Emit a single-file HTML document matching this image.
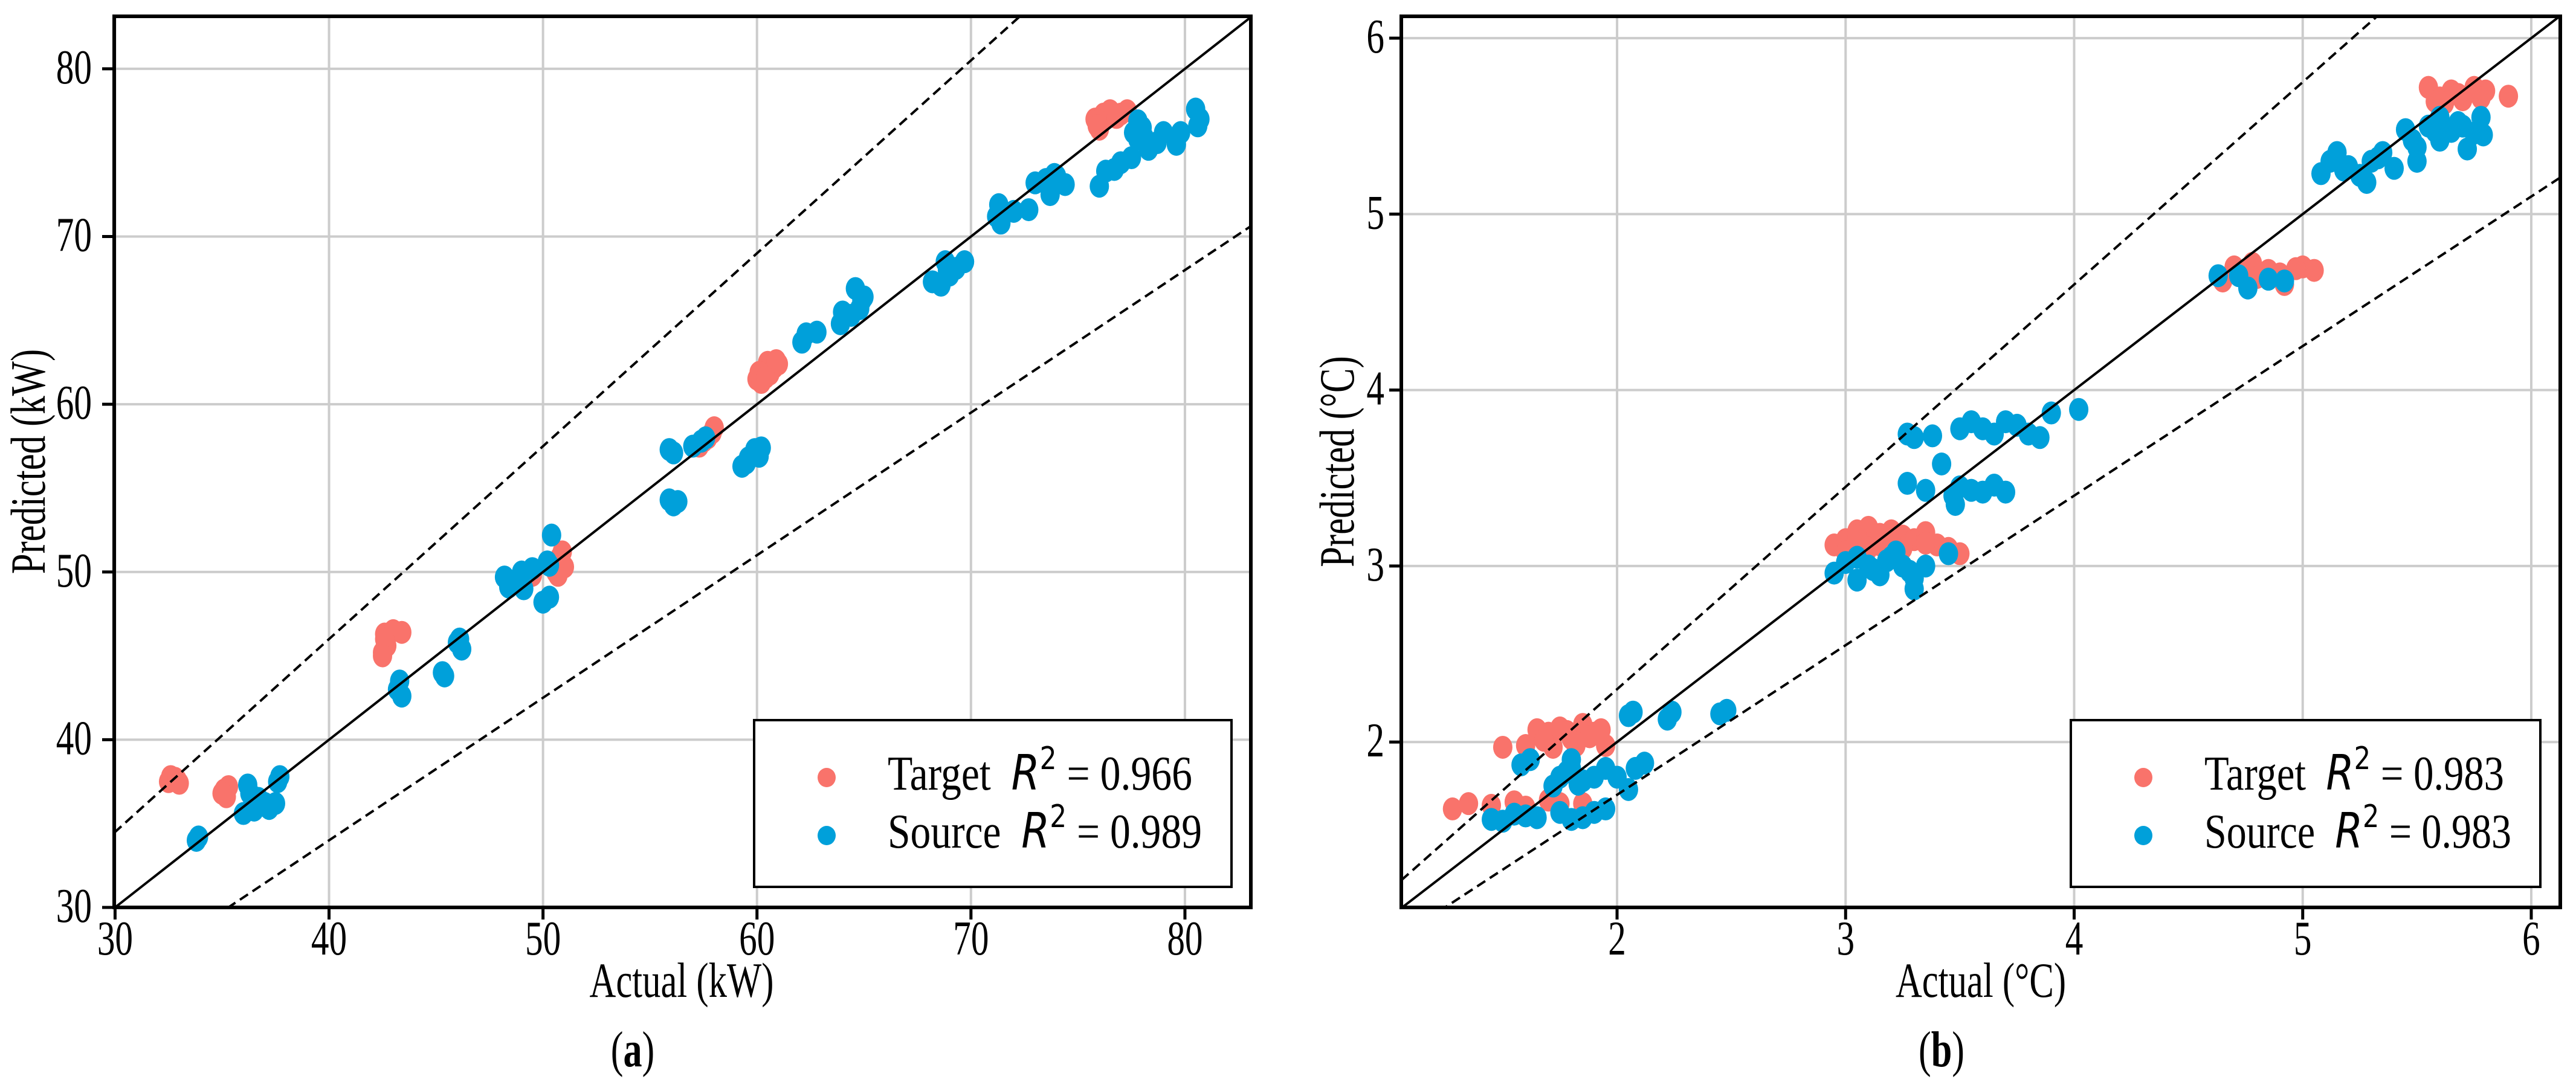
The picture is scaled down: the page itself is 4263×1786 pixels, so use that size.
<!DOCTYPE html>
<html><head><meta charset="utf-8">
<style>
html,body{margin:0;padding:0;background:#fff;}
svg{display:block;}
text{font-family:"Liberation Serif",serif;fill:#000;}
</style></head>
<body>
<svg id="fig" width="4263" height="1786" viewBox="0 0 4263 1786" xmlns="http://www.w3.org/2000/svg"></svg>
<script>
// ---- Panel (a) data: Actual vs Predicted (kW)
const aTargetX = [32.5,32.8,33.0,32.6,32.9,35.1,35.2,35.3,35.0,42.5,42.6,42.7,43.0,43.4,42.6,42.5,50.6,50.8,50.9,51.0,50.7,49.5,50.8,57.3,57.7,58.0,57.9,57.5,60.0,60.3,60.5,60.8,61.0,60.2,60.6,60.9,60.1,60.4,75.8,76.0,76.2,76.5,76.1,77.0,77.3,76.8,75.9];
const aTargetY = [37.5,37.7,37.4,37.8,37.6,37.0,36.6,37.2,36.8,45.2,46.3,45.6,46.5,46.4,46.0,45.0,50.0,50.6,51.2,50.3,49.8,49.8,50.9,57.5,58.0,58.6,58.3,57.8,61.5,62.0,62.5,62.2,62.4,61.3,61.8,62.6,61.9,61.6,77.0,76.4,77.3,77.5,76.8,77.3,77.5,77.1,76.6];
const aSourceX = [33.8,33.9,36.2,36.3,36.0,36.5,36.7,37.0,37.2,37.5,37.6,37.7,36.4,43.3,43.4,43.2,45.3,45.4,46.1,46.2,46.0,48.2,48.4,48.8,49.1,49.5,50.2,50.0,50.3,50.4,50.3,49.0,48.6,55.9,56.1,55.9,56.1,56.3,57.0,57.4,57.6,59.3,59.6,59.9,60.1,60.2,59.5,62.1,62.3,62.8,63.9,64.0,64.6,64.9,64.8,65.0,64.4,68.2,68.6,68.8,69.0,69.3,69.7,68.9,71.2,71.3,71.4,72.0,72.7,73.0,73.5,73.7,74.0,74.4,73.9,76.0,76.3,76.7,77.0,77.5,77.8,78.0,78.3,78.7,79.0,79.6,79.8,80.5,80.6,80.7,77.8,78.1,77.6];
const aSourceY = [34.0,34.2,37.3,36.8,35.6,35.8,36.5,36.2,35.9,36.2,37.5,37.8,36.0,43.5,42.6,43.0,44.0,43.8,46.0,45.4,45.8,49.7,49.1,49.4,49.0,50.2,50.6,48.2,48.5,52.2,50.4,50.0,49.4,57.3,57.1,54.3,54.0,54.2,57.5,57.8,58.0,56.3,56.8,57.3,56.9,57.4,56.5,63.7,64.2,64.3,64.8,65.5,66.9,66.2,65.7,66.4,65.3,67.3,67.1,68.5,67.7,68.1,68.5,68.0,71.2,71.9,70.8,71.5,71.6,73.2,73.4,72.5,73.6,73.1,73.7,73.0,73.9,74.0,74.4,74.7,75.8,76.5,75.2,75.6,76.2,75.5,76.2,77.6,76.6,77.0,76.9,75.9,76.2];
const aTicks = [30,40,50,60,70,80];

// ---- Panel (b) data: Actual vs Predicted (°C)
const bTargetX = [1.28,1.35,1.45,1.55,1.6,1.7,1.75,1.85,1.5,1.6,1.65,1.7,1.75,1.8,1.85,1.9,1.95,1.72,1.82,1.93,1.68,1.78,1.88,2.95,3.0,3.05,3.1,3.15,3.2,3.25,3.3,3.35,3.4,3.45,3.5,3.1,3.25,3.0,3.15,3.35,3.05,3.2,4.65,4.7,4.78,4.85,4.92,5.0,5.05,4.9,4.8,4.72,4.97,5.55,5.6,5.65,5.7,5.75,5.8,5.9,5.62,5.58,5.68,5.78];
const bTargetY = [1.62,1.65,1.64,1.66,1.63,1.67,1.65,1.65,1.97,1.98,2.07,2.05,2.08,2.02,2.1,2.05,1.98,1.97,1.98,2.07,2.01,2.06,2.03,3.12,3.15,3.2,3.22,3.18,3.2,3.17,3.15,3.19,3.12,3.1,3.07,3.1,3.1,3.08,3.12,3.13,3.17,3.14,4.62,4.7,4.72,4.68,4.6,4.7,4.68,4.66,4.64,4.66,4.69,5.72,5.66,5.7,5.65,5.72,5.7,5.67,5.63,5.64,5.68,5.66];
const bSourceX = [1.45,1.5,1.55,1.6,1.65,1.75,1.8,1.85,1.9,1.95,1.58,1.62,1.72,1.75,1.8,1.85,1.8,1.9,1.95,2.0,2.05,2.08,2.12,1.78,1.83,2.05,2.07,2.22,2.24,2.45,2.48,2.95,3.0,3.05,3.1,3.15,3.2,3.25,3.3,3.35,3.3,3.22,3.45,3.05,3.12,3.18,3.28,3.27,3.3,3.38,3.5,3.55,3.6,3.65,3.7,3.75,3.8,3.85,3.9,4.02,3.27,3.35,3.42,3.47,3.5,3.55,3.6,3.65,3.7,3.48,4.63,4.72,4.76,4.85,4.92,5.08,5.12,5.15,5.2,5.25,5.3,5.35,5.28,5.4,5.45,5.5,5.55,5.6,5.65,5.7,5.75,5.78,5.79,5.72,5.5,5.6,5.18,5.33,5.48,5.58,5.68];
const bSourceY = [1.56,1.55,1.59,1.58,1.57,1.6,1.56,1.57,1.6,1.62,1.87,1.9,1.75,1.8,1.85,1.78,1.9,1.8,1.85,1.8,1.73,1.85,1.88,1.83,1.76,2.15,2.17,2.13,2.17,2.16,2.18,2.96,3.02,2.92,3.0,2.95,3.05,3.0,2.93,3.0,2.87,3.08,3.07,3.05,2.98,3.03,2.97,3.75,3.73,3.74,3.78,3.82,3.78,3.75,3.82,3.8,3.75,3.73,3.87,3.89,3.47,3.43,3.58,3.4,3.45,3.43,3.42,3.46,3.42,3.35,4.65,4.65,4.58,4.63,4.62,5.23,5.3,5.35,5.27,5.22,5.3,5.35,5.18,5.26,5.48,5.38,5.5,5.42,5.47,5.5,5.46,5.55,5.45,5.37,5.3,5.55,5.25,5.32,5.42,5.47,5.52];
const bTicks = [2,3,4,5,6];

const NS = "http://www.w3.org/2000/svg";
const svg = document.getElementById('fig');
const RED = "#f9736b", BLUE = "#00a0da";
function mk(tag, attrs, parent){const e=document.createElementNS(NS,tag);for(const k in attrs)e.setAttribute(k,attrs[k]);(parent||svg).appendChild(e);return e;}

function panel(cfg){
  const g = mk('g',{});
  
  
  const sx = v => cfg.L + (v - cfg.xmin)/(cfg.xmax - cfg.xmin)*(cfg.R - cfg.L);
  const sy = v => cfg.B - (v - cfg.ymin)/(cfg.ymax - cfg.ymin)*(cfg.B - cfg.T);
  cfg.ticks.forEach(t=>{
    const gx = mk('line',{x1:sx(t),x2:sx(t),y1:cfg.T,y2:cfg.B,stroke:'#cccccc','stroke-width':4},g);
    
    
    const gy = mk('line',{x1:cfg.L,x2:cfg.R,y1:sy(t),y2:sy(t),stroke:'#cccccc','stroke-width':4},g);
    
    
  });
  const clip = mk('clipPath',{id:'clip-'+cfg.id},g);
  mk('rect',{x:cfg.L,y:cfg.T,width:cfg.R-cfg.L,height:cfg.B-cfg.T},clip);
  const pts = mk('g',{'clip-path':'url(#clip-'+cfg.id+')'},g);
  
  
  cfg.tx.forEach((x,i)=>{
    const c = mk('ellipse',{cx:sx(x),cy:sy(cfg.ty[i]),rx:16,ry:19,fill:RED},pts);
    
    
  });
  cfg.sx.forEach((x,i)=>{
    const c = mk('ellipse',{cx:sx(x),cy:sy(cfg.sy[i]),rx:16,ry:19,fill:BLUE},pts);
    
    
  });
  const lo = cfg.xmin, hi = cfg.xmax;
  const lines = mk('g',{'clip-path':'url(#clip-'+cfg.id+')'},g);
  const d1 = mk('line',{x1:sx(lo),y1:sy(lo),x2:sx(hi),y2:sy(hi),stroke:'#000','stroke-width':4},lines);
  
  
  const d2 = mk('line',{x1:sx(lo),y1:sy(lo*1.15),x2:sx(hi),y2:sy(hi*1.15),stroke:'#000','stroke-width':4,'stroke-dasharray':'16,9'},lines);
  
  
  const d3 = mk('line',{x1:sx(lo),y1:sy(lo*0.85),x2:sx(hi),y2:sy(hi*0.85),stroke:'#000','stroke-width':4,'stroke-dasharray':'16,9'},lines);
  
  
  const fr = mk('rect',{x:cfg.L,y:cfg.T,width:cfg.R-cfg.L,height:cfg.B-cfg.T,fill:'none',stroke:'#000','stroke-width':6},g);
  
  
  cfg.ticks.forEach(t=>{
    mk('line',{x1:sx(t),x2:sx(t),y1:cfg.B,y2:cfg.B+20,stroke:'#000','stroke-width':5},g);
    mk('line',{x1:cfg.L-20,x2:cfg.L,y1:sy(t),y2:sy(t),stroke:'#000','stroke-width':5},g);
    const xl = mk('text',{x:sx(t),y:cfg.B+78,'font-size':80,'text-anchor':'middle'},g);
    xl.textContent = String(t);
    
    
    const yl = mk('text',{x:cfg.L-cfg.ylabGap,y:sy(t)+24,'font-size':80,'text-anchor':'end'},g);
    yl.textContent = String(t);
    
    
  });
  const xt = mk('text',{x:cfg.xtitleX,y:1650,'font-size':82,'text-anchor':'middle'},g);
  xt.textContent = cfg.xtitle;
  
  
  const yt = mk('text',{x:0,y:0,'font-size':82,'text-anchor':'middle',transform:'translate('+cfg.ytitleX+',764) rotate(-90)'},g);
  yt.textContent = cfg.ytitle;
  
  
  const cap = mk('text',{x:cfg.capX,y:1765,'font-size':84,'text-anchor':'middle'},g);
  cap.innerHTML = '(<tspan font-weight="bold">'+cfg.cap+'</tspan>)';
  
  
  const lg = mk('g',{},g);
  
  
  mk('rect',{x:cfg.lg[0],y:1192,width:cfg.lg[1]-cfg.lg[0],height:276,fill:'#fff',stroke:'#000','stroke-width':4},lg);
  [[RED,'Target',cfg.r2[0],1287],[BLUE,'Source',cfg.r2[1],1383]].forEach(e=>{
    const en = mk('g',{},lg);
    
    
    mk('ellipse',{cx:cfg.lg[0]+120,cy:e[3],rx:15,ry:16,fill:e[0]},en);
    const t = mk('text',{x:cfg.lg[0]+221,y:e[3]+20,'font-size':80},en);
    t.innerHTML = e[1]+'\u00a0\u00a0<tspan font-family="DejaVu Sans, sans-serif" font-style="italic">R</tspan><tspan font-family="DejaVu Sans, sans-serif" font-size="52" dy="-34">2</tspan><tspan dy="34">\u00a0= '+e[2]+'</tspan>';
    t.setAttribute('textLength', e[1]==='Target'?(cfg.id==='a'?504:496):(cfg.id==='a'?520:508));
    t.setAttribute('lengthAdjust','spacingAndGlyphs');
  });
  g.querySelectorAll('text').forEach(t=>{
    if(t.hasAttribute('textLength')) return;
    const w = t.getComputedTextLength();
    t.setAttribute('textLength', (w*0.74).toFixed(1));
    t.setAttribute('lengthAdjust','spacingAndGlyphs');
  });
}

panel({id:'a',L:189,R:2070,T:27,B:1502,xmin:29.96,xmax:83.08,ymin:30,ymax:83.13,
  ticks:aTicks,tx:aTargetX,ty:aTargetY,sx:aSourceX,sy:aSourceY,
  xtitle:'Actual (kW)',ytitle:'Predicted (kW)',xtitleX:1128,ytitleX:74,capX:1047,cap:'a',
  ylabGap:37,lg:[1248,2038],r2:['0.966','0.989']});
panel({id:'b',L:2319,R:4237,T:27,B:1502,xmin:1.056,xmax:6.127,ymin:1.06,ymax:6.124,
  ticks:bTicks,tx:bTargetX,ty:bTargetY,sx:bSourceX,sy:bSourceY,
  xtitle:'Actual (°C)',ytitle:'Predicted (°C)',xtitleX:3278,ytitleX:2240,capX:3213,cap:'b',
  ylabGap:28,lg:[3427,4204],r2:['0.983','0.983']});
</script>
</body></html>
